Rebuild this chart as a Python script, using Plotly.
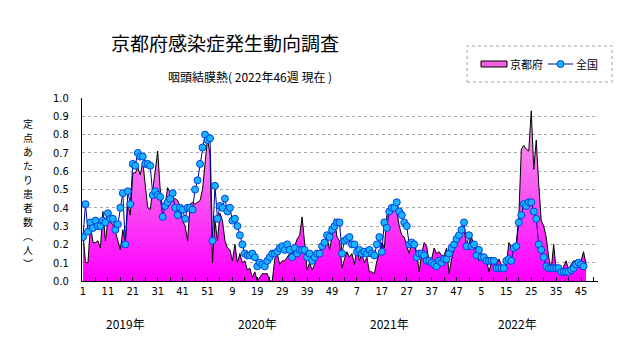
import plotly.graph_objects as go

# ---- data ----
week_labels = ["1", "11", "21", "31", "41", "51", "9", "19", "29", "39", "49",
               "7", "17", "27", "37", "47", "5", "15", "25", "35", "45"]
years = ["2019年", "2020年", "2021年", "2022年"]

kyoto_2019 = [0.26, 0.10, 0.10, 0.31, 0.21, 0.21, 0.22, 0.18, 0.38, 0.22,
              0.33, 0.32, 0.31, 0.27, 0.22, 0.17, 0.28, 0.21, 0.42, 0.36,
              0.59, 0.59, 0.62, 0.58, 0.65, 0.51, 0.40, 0.39, 0.50, 0.58,
              0.71, 0.50, 0.39, 0.42, 0.51, 0.48, 0.45, 0.45, 0.44, 0.41,
              0.33, 0.30, 0.22, 0.42, 0.43, 0.42, 0.43, 0.44, 0.50, 0.66,
              0.78, 0.69]
kyoto_2020 = [0.10, 0.33, 0.22, 0.37, 0.33, 0.22, 0.18, 0.17, 0.11, 0.20,
              0.10, 0.15, 0.10, 0.11, 0.06, 0.07, 0.02, 0.05, 0.00, 0.02,
              0.04, 0.04, 0.04, 0.00, 0.00, 0.12, 0.15, 0.09, 0.11, 0.11,
              0.13, 0.15, 0.19, 0.19, 0.23, 0.25, 0.35, 0.19, 0.06, 0.10,
              0.06, 0.09, 0.13, 0.15, 0.21, 0.21, 0.24, 0.17, 0.24, 0.34,
              0.24, 0.22, 0.07]
kyoto_2021 = [0.12, 0.16, 0.13, 0.15, 0.09, 0.18, 0.11, 0.15, 0.10, 0.13,
              0.05, 0.05, 0.04, 0.11, 0.15, 0.21, 0.18, 0.36, 0.38, 0.40,
              0.42, 0.38, 0.30, 0.25, 0.24, 0.19, 0.15, 0.21, 0.22, 0.15,
              0.05, 0.15, 0.21, 0.19, 0.10, 0.12, 0.18, 0.15, 0.16, 0.14,
              0.14, 0.18, 0.04, 0.12, 0.18, 0.22, 0.25, 0.27, 0.32, 0.17,
              0.21, 0.24]
kyoto_2022 = [0.19, 0.17, 0.11, 0.15, 0.10, 0.12, 0.05, 0.10, 0.11, 0.09,
              0.12, 0.09, 0.07, 0.08, 0.21, 0.19, 0.16, 0.21, 0.35, 0.72,
              0.74, 0.72, 0.71, 0.93, 0.61, 0.77, 0.53, 0.33, 0.30, 0.24,
              0.13, 0.06, 0.20, 0.06, 0.06, 0.04, 0.08, 0.11, 0.06, 0.09,
              0.11, 0.11, 0.11, 0.11, 0.16, 0.09]

national_2019 = [0.24, 0.42, 0.27, 0.32, 0.29, 0.33, 0.30, 0.30, 0.33, 0.32,
                 0.37, 0.34, 0.34, 0.28, 0.31, 0.40, 0.48, 0.20, 0.49, 0.42,
                 0.64, 0.63, 0.70, 0.68, 0.68, 0.64, 0.64, 0.63, 0.47, 0.49,
                 0.47, 0.46, 0.35, 0.41, 0.43, 0.45, 0.48, 0.40, 0.36, 0.40,
                 0.39, 0.34, 0.40, 0.40, 0.39, 0.50, 0.55, 0.64, 0.73, 0.80,
                 0.77, 0.78]
national_2020 = [0.22, 0.52, 0.34, 0.41, 0.40, 0.45, 0.38, 0.40, 0.33, 0.34,
                 0.30, 0.25, 0.20, 0.15, 0.14, 0.14, 0.15, 0.13, 0.08, 0.10,
                 0.09, 0.08, 0.11, 0.13, 0.15, 0.15, 0.16, 0.18, 0.19, 0.17,
                 0.20, 0.17, 0.13, 0.18, 0.15, 0.17, 0.17, 0.17, 0.13, 0.15,
                 0.11, 0.13, 0.15, 0.15, 0.19, 0.21, 0.25, 0.24, 0.28, 0.30,
                 0.32, 0.32, 0.15]
national_2021 = [0.22, 0.23, 0.24, 0.20, 0.20, 0.16, 0.17, 0.15, 0.16, 0.15,
                 0.17, 0.15, 0.14, 0.20, 0.24, 0.16, 0.32, 0.29, 0.38, 0.40,
                 0.40, 0.43, 0.38, 0.36, 0.32, 0.30, 0.20, 0.21, 0.20, 0.13,
                 0.15, 0.15, 0.14, 0.11, 0.11, 0.10, 0.09, 0.08, 0.11, 0.10,
                 0.12, 0.12, 0.15, 0.18, 0.20, 0.23, 0.25, 0.28, 0.32, 0.19,
                 0.25, 0.19]
national_2022 = [0.20, 0.14, 0.17, 0.13, 0.13, 0.11, 0.11, 0.11, 0.11, 0.07,
                 0.07, 0.07, 0.07, 0.11, 0.12, 0.11, 0.18, 0.19, 0.32, 0.36,
                 0.42, 0.41, 0.43, 0.43, 0.38, 0.34, 0.20, 0.17, 0.13, 0.08,
                 0.07, 0.07, 0.07, 0.07, 0.07, 0.05, 0.05, 0.05, 0.05, 0.06,
                 0.07, 0.09, 0.10, 0.09, 0.08]

kyoto = kyoto_2019 + kyoto_2020 + kyoto_2021 + kyoto_2022
national = national_2019 + national_2020 + national_2021 + national_2022
x_k = list(range(len(kyoto)))
x_n = list(range(len(national)))

year_centers = [16.9, 69.9, 122.9, 174.3]

tickvals = list(range(0, 210, 5))
ticktext = [week_labels[v // 10] if (v % 10 == 0 and v // 10 < len(week_labels)) else ""
            for v in tickvals]

JP = "Noto Sans CJK JP"
NUM = "Liberation Sans Narrow, DejaVu Sans Condensed, Arial Narrow, sans-serif"

KYOTO_LINE = "#000000"
NAT_LINE = "#0000a0"
NAT_FILL = "#19b4ff"
NAT_EDGE = "#0040e0"

fig = go.Figure()
fig.add_trace(go.Scatter(
    x=x_k, y=kyoto, name="京都府", mode="lines", showlegend=False,
    line=dict(color=KYOTO_LINE, width=1),
    fill="tozeroy",
    fillgradient=dict(type="vertical",
                      colorscale=[[0, "#ff00ff"], [1, "#f5a6e6"]]),
))
fig.add_trace(go.Scatter(
    x=x_n, y=national, name="全国", mode="lines+markers", showlegend=False,
    line=dict(color=NAT_LINE, width=1),
    marker=dict(symbol="circle", size=7, color=NAT_FILL,
                line=dict(color=NAT_EDGE, width=1)),
))

W, H = 631, 347
L, R, T, B = 82, 33, 98, 66
pw, ph = W - L - R, H - T - B


def px(xp):
    return (xp - L) / pw


def py(yp):
    return (H - B - yp) / ph


annotations = []
for yr, xc in zip(years, year_centers):
    annotations.append(dict(x=xc, y=py(323), xref="x", yref="paper", text=yr,
                            xanchor="center", yanchor="middle", showarrow=False,
                            font=dict(family=JP, size=12, color="#000")))

annotations.append(dict(x=px(225), y=py(42), xref="paper", yref="paper",
                        text="京都府感染症発生動向調査", showarrow=False,
                        xanchor="center", yanchor="middle",
                        font=dict(family=JP, size=19, color="#000")))
annotations.append(dict(x=px(250), y=py(76), xref="paper", yref="paper",
                        text="咽頭結膜熱( 2022年46週 現在 )", showarrow=False,
                        xanchor="center", yanchor="middle",
                        font=dict(family=JP, size=12, color="#000")))

# vertical y-axis title, one character per row
ylab_chars = list("定点あたり患者数") + ["︵", "人", "︶"]
for k, ch in enumerate(ylab_chars):
    annotations.append(dict(x=px(28), y=py(123 + 14 * k), xref="paper", yref="paper",
                            text=ch, showarrow=False, xanchor="center",
                            yanchor="middle", borderpad=0,
                            font=dict(family=JP, size=10, color="#000")))

# custom legend
LEG_Y = 64
annotations.append(dict(x=px(508), y=py(LEG_Y), xref="paper", yref="paper",
                        text="京都府", showarrow=False, xanchor="left", yanchor="middle",
                        font=dict(family=JP, size=11, color="#000")))
annotations.append(dict(x=px(574), y=py(LEG_Y), xref="paper", yref="paper",
                        text="全国", showarrow=False, xanchor="left", yanchor="middle",
                        font=dict(family=JP, size=11, color="#000")))

shapes = [
    dict(type="rect", xref="paper", yref="paper",
         x0=px(467), x1=px(612), y0=py(82), y1=py(46),
         line=dict(color="#a0a0a0", width=1, dash="dot"),
         fillcolor="rgba(0,0,0,0)"),
    dict(type="rect", xref="paper", yref="paper",
         x0=px(481), x1=px(507), y0=py(LEG_Y + 3), y1=py(LEG_Y - 3),
         line=dict(color="#000", width=1), fillcolor="#f060e0"),
    dict(type="line", xref="paper", yref="paper",
         x0=px(548), x1=px(573), y0=py(LEG_Y), y1=py(LEG_Y),
         line=dict(color=NAT_LINE, width=1)),
    dict(type="circle", xref="paper", yref="paper",
         x0=px(557), x1=px(564), y0=py(LEG_Y + 3.5), y1=py(LEG_Y - 3.5),
         line=dict(color=NAT_EDGE, width=1), fillcolor=NAT_FILL),
]

fig.update_layout(
    width=W, height=H,
    margin=dict(l=L, r=R, t=T, b=B, autoexpand=False),
    paper_bgcolor="white", plot_bgcolor="white",
    showlegend=False,
    annotations=annotations,
    shapes=shapes,
    xaxis=dict(range=[-0.4, 206.8], tickmode="array", tickvals=tickvals,
               ticktext=ticktext, ticks="inside", ticklen=4, tickcolor="#000",
               showline=True, linecolor="#000", linewidth=1,
               showgrid=False, zeroline=False,
               tickfont=dict(family=NUM, size=11, color="#000")),
    yaxis=dict(range=[0, 1.0], tickmode="array",
               tickvals=[i / 10 for i in range(11)],
               ticktext=[f"{i/10:.1f}" for i in range(11)],
               ticks="", showline=True, linecolor="#000", linewidth=1,
               showgrid=True, gridcolor="#a8a8a8", griddash="dot", gridwidth=1,
               zeroline=False, ticklabelstandoff=10,
               tickfont=dict(family=NUM, size=11, color="#000")),
)

fig.write_html("out.html")
